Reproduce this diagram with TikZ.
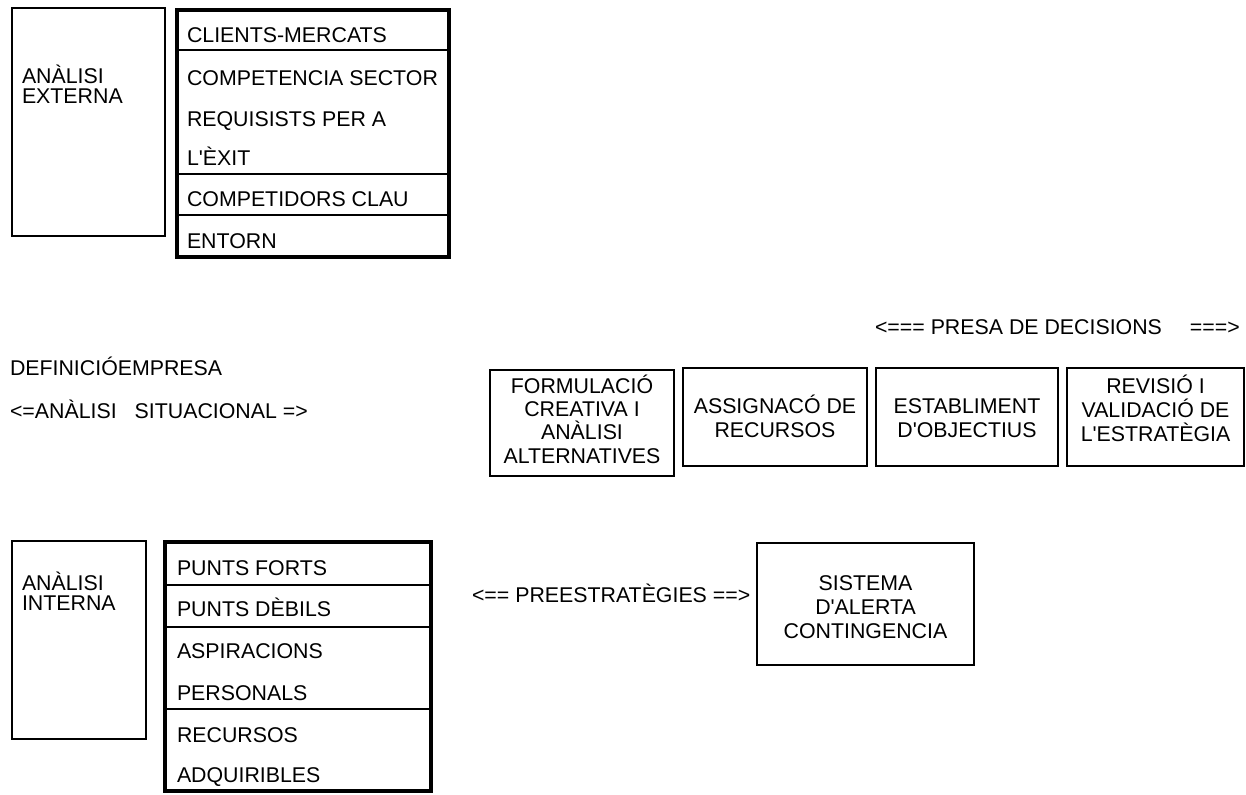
\documentclass[tikz,border=0pt]{standalone}
\usepackage{fontspec}
\setmainfont{Liberation Sans}[Ligatures=TeXOff]
\begin{document}
\begin{tikzpicture}[x=0.75pt,y=-0.75pt,
  txt/.style={inner sep=0pt, outer sep=0pt, font=\fontsize{16pt}{19pt}\selectfont},
  lt/.style={txt, anchor=base west},
  ct/.style={txt, anchor=base},
  thinbox/.style={draw=black, line width=1.3pt},
  thickbox/.style={draw=black, line width=3pt},
  divider/.style={draw=black, line width=1.3pt}]
\useasboundingbox (0,0) rectangle (1246,794);
\fill[white] (0,0) rectangle (1246,794);

% ---- external analysis
\draw[thinbox] (12,8) rectangle (165,236);
\node[lt] (ext1) at (22,83) {ANÀLISI};
\node[lt] (ext2) at (22,103) {EXTERNA};

\draw[thickbox] (177,10) rectangle (449,257);
\draw[divider] (177,50) -- (449,50);
\draw[divider] (177,174) -- (449,174);
\draw[divider] (177,215) -- (449,215);
\node[lt] (e1) at (187,42) {CLIENTS-MERCATS};
\node[lt] (e2) at (187,85) {COMPETENCIA SECTOR};
\node[lt] (e3) at (187,126) {REQUISISTS PER A};
\node[lt] (e4) at (187,165) {L'ÈXIT};
\node[lt] (e5) at (187,206) {COMPETIDORS CLAU};
\node[lt] (e6) at (187,248) {ENTORN};

% ---- middle texts
\node[lt] (presa) at (875,334) {<=== PRESA DE DECISIONS\hspace{21pt}===>};
\node[lt] (def) at (10,375) {DEFINICIÓEMPRESA};
\node[lt] (sit) at (10,418) {<=ANÀLISI\hspace{13.5pt}SITUACIONAL =>};

% ---- decision boxes
\draw[thinbox] (490,370) rectangle (674,476);
\node[ct] (b1a) at (582,393) {FORMULACIÓ};
\node[ct] (b1b) at (582,416) {CREATIVA I};
\node[ct] (b1c) at (582,439) {ANÀLISI};
\node[ct] (b1d) at (582,463) {ALTERNATIVES};

\draw[thinbox] (683,368) rectangle (867,466);
\node[ct] (b2a) at (775,413) {ASSIGNACÓ DE};
\node[ct] (b2b) at (775,437) {RECURSOS};

\draw[thinbox] (876,368) rectangle (1058,466);
\node[ct] (b3a) at (967,413) {ESTABLIMENT};
\node[ct] (b3b) at (967,437) {D'OBJECTIUS};

\draw[thinbox] (1067,368) rectangle (1244,466);
\node[ct] (b4a) at (1155.5,393) {REVISIÓ I};
\node[ct] (b4b) at (1155.5,417) {VALIDACIÓ DE};
\node[ct] (b4c) at (1155.5,441) {L'ESTRATÈGIA};

% ---- internal analysis
\draw[thinbox] (12,541) rectangle (146,739);
\node[lt] (int1) at (22,590) {ANÀLISI};
\node[lt] (int2) at (22,610) {INTERNA};

\draw[thickbox] (165,542) rectangle (431,791);
\draw[divider] (165,585) -- (431,585);
\draw[divider] (165,627) -- (431,627);
\draw[divider] (165,709) -- (431,709);
\node[lt] (i1) at (177,575) {PUNTS FORTS};
\node[lt] (i2) at (177,616) {PUNTS DÈBILS};
\node[lt] (i3) at (177,658) {ASPIRACIONS};
\node[lt] (i4) at (177,700) {PERSONALS};
\node[lt] (i5) at (177,742) {RECURSOS};
\node[lt] (i6) at (177,782) {ADQUIRIBLES};

% ---- pre-strategies
\node[lt] (pre) at (472,602) {<== PREESTRATÈGIES ==>};
\draw[thinbox] (757,543) rectangle (974,665);
\node[ct] (s1) at (865.5,590) {SISTEMA};
\node[ct] (s2) at (865.5,614) {D'ALERTA};
\node[ct] (s3) at (865.5,638) {CONTINGENCIA};
\end{tikzpicture}
\end{document}
